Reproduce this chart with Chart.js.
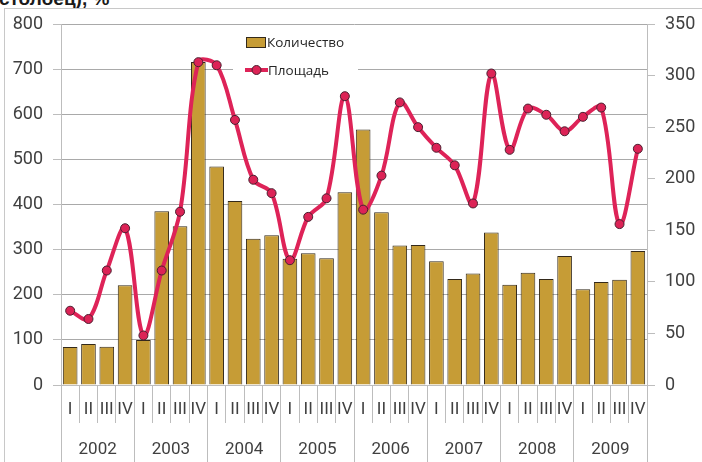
<!DOCTYPE html>
<html>
<head>
<meta charset="utf-8">
<script src="https://cdn.jsdelivr.net/npm/chart.js@4/dist/chart.umd.min.js"></script>
<style>
  html, body { margin: 0; padding: 0; background: #fff; }
  #wrap { position: relative; width: 702px; height: 462px; overflow: hidden; }
  #title { position: absolute; left: -1px; top: -11px; font: bold 19px/19px "Liberation Sans", Arial, sans-serif; color: #1a1a1a; white-space: nowrap; }
  #frame { position: absolute; left: 4px; top: 8px; width: 720px; height: 480px; border-left: 1px solid #c8c8c8; border-top: 1px solid #c8c8c8; pointer-events: none; }
  canvas { position: absolute; left: 0; top: 0; }
</style>
</head>
<body>
<div id="wrap">
  <div id="title">столбец), %</div>
  <div id="frame"></div>
  <canvas id="c" width="702" height="462"></canvas>
</div>
<script>
const quarterLabels = ['I','II','III','IV','I','II','III','IV','I','II','III','IV','I','II','III','IV',
                       'I','II','III','IV','I','II','III','IV','I','II','III','IV','I','II','III','IV'];
const yearLabels = ['2002','2003','2004','2005','2006','2007','2008','2009'];
const countValues = [84,91,85,221,100,385,352,716,484,408,324,332,280,292,281,427,
                     566,383,309,310,274,235,247,338,222,249,235,286,212,228,233,297];
const areaValues = [72,64,111,152,48,111,168,313,310,257,199,186,121,163,181,280,
                    170,203,274,250,230,213,176,302,228,268,262,246,260,269,156,229];
const seriesNames = ['Количество','Площадь'];

const BAR_FILL = '#c69c36', BAR_EDGE = '#33291a';
const LINE_COL = '#de2358', PT_FILL = '#dc2356', PT_EDGE = '#4a2030';
const GRID = '#a9a9a9', AXIS = '#bdbdbd', TXT = '#404040';

const legendPlugin = {
  id: 'customLegend',
  afterDraw(chart) {
    const ctx = chart.ctx;
    const ds = chart.data.datasets;
    ctx.save();
    ctx.fillStyle = '#fff';
    ctx.fillRect(233, 30, 125, 50);
    const barDs = ds[1];
    ctx.fillStyle = barDs.backgroundColor;
    ctx.strokeStyle = barDs.borderColor;
    ctx.lineWidth = 1;
    ctx.fillRect(246.5, 37.5, 19, 10);
    ctx.strokeRect(246.5, 37.5, 19, 10);
    ctx.font = '13.5px "Open Sans", sans-serif';
    ctx.fillStyle = '#262626';
    ctx.textBaseline = 'middle';
    ctx.fillText(barDs.label, 267, 43);
    const lineDs = ds[0];
    ctx.strokeStyle = lineDs.borderColor;
    ctx.lineWidth = lineDs.borderWidth;
    ctx.beginPath(); ctx.moveTo(245, 70); ctx.lineTo(268, 70); ctx.stroke();
    ctx.beginPath(); ctx.arc(256.5, 70, 4.5, 0, Math.PI * 2);
    ctx.fillStyle = lineDs.pointBackgroundColor; ctx.fill();
    ctx.lineWidth = 1; ctx.strokeStyle = lineDs.pointBorderColor; ctx.stroke();
    ctx.fillStyle = '#262626';
    ctx.fillText(lineDs.label, 268, 71);
    ctx.restore();
  }
};

new Chart(document.getElementById('c'), {
  data: {
    labels: quarterLabels,
    datasets: [
      {
        type: 'line', label: seriesNames[1], data: areaValues, yAxisID: 'y1', xAxisID: 'x',
        borderColor: LINE_COL, borderWidth: 4, tension: 0.35,
        pointRadius: 4.5, pointBackgroundColor: PT_FILL, pointBorderColor: PT_EDGE, pointBorderWidth: 1,
        order: 0
      },
      {
        type: 'bar', label: seriesNames[0], data: countValues, yAxisID: 'y', xAxisID: 'x',
        backgroundColor: BAR_FILL, borderColor: BAR_EDGE, borderWidth: 1,
        barPercentage: 0.8, categoryPercentage: 1.0, order: 1
      }
    ]
  },
  options: {
    responsive: false,
    animation: false,
    devicePixelRatio: 1,
    layout: { padding: { top: 24, left: 0, right: 0, bottom: 4 } },
    plugins: { legend: { display: false }, tooltip: { enabled: false } },
    scales: {
      x: {
        type: 'category', position: 'bottom', offset: true,
        grid: { offset: true, drawOnChartArea: false, drawTicks: true, tickLength: 38, color: AXIS },
        border: { color: AXIS },
        ticks: { color: TXT, font: { family: 'Roboto', size: 17 }, padding: -23, maxRotation: 0, autoSkip: false },
        afterFit(s) { s.height = 34; }
      },
      x2: {
        type: 'category', position: 'bottom', offset: true, labels: yearLabels,
        grid: { offset: true, drawOnChartArea: false, drawTicks: true, tickLength: 43, color: AXIS },
        border: { display: false },
        ticks: { color: TXT, font: { family: 'Roboto', size: 17 }, padding: -22, maxRotation: 0, autoSkip: false },
        afterFit(s) { s.height = 39; }
      },
      y: {
        type: 'linear', position: 'left', min: 0, max: 800,
        grid: { color: GRID, tickLength: 8, tickColor: AXIS },
        border: { color: AXIS },
        ticks: { stepSize: 100, color: TXT, font: { family: 'Roboto', size: 18 }, padding: 10 },
        afterFit(s) { s.width = 61; }
      },
      y1: {
        type: 'linear', position: 'right', min: 0, max: 350,
        grid: { drawOnChartArea: false, tickLength: 8, color: AXIS },
        border: { color: AXIS },
        ticks: { stepSize: 50, color: TXT, font: { family: 'Roboto', size: 18 }, padding: 10 },
        afterFit(s) { s.width = 55; }
      }
    }
  },
  plugins: [legendPlugin]
});
</script>
</body>
</html>
